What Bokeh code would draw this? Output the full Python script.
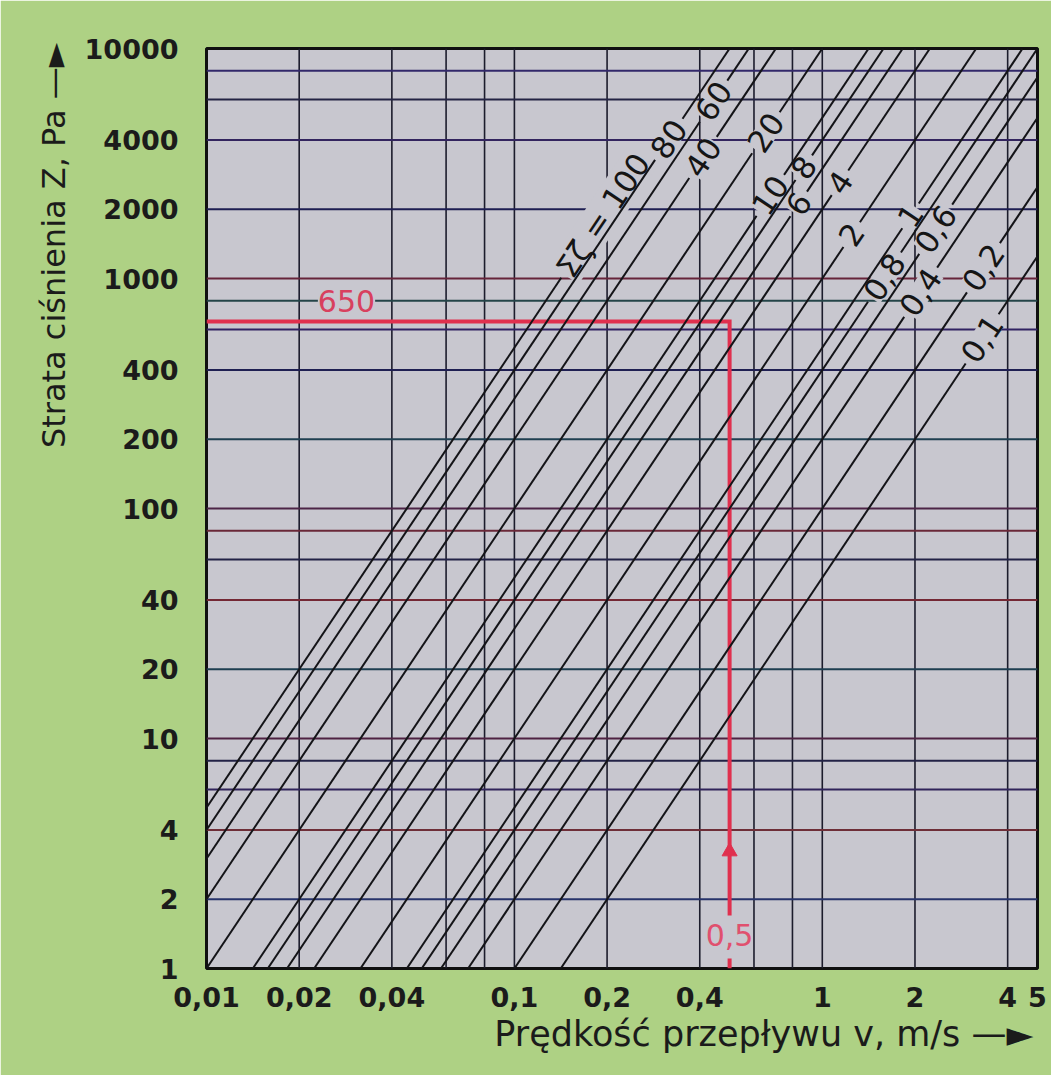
import math
from bokeh.plotting import figure
from bokeh.models import Label, FixedTicker, CustomJSTickFormatter, Title
from bokeh.embed import file_html
from bokeh.resources import INLINE

# ---------------- data ----------------
zeta = [100, 80, 60, 40, 20, 10, 8, 6, 4, 2, 1, 0.8, 0.6, 0.4, 0.2, 0.1]
zeta_labels = ["Σζ = 100", "80", "60", "40", "20", "10", "8", "6", "4", "2", "1",
               "0,8", "0,6", "0,4", "0,2", "0,1"]
rho = 1000.0  # water density, kg/m3  ->  Z = sum(zeta) * rho * v^2 / 2

x_ticks = [0.01, 0.02, 0.04, 0.1, 0.2, 0.4, 1, 2, 4, 5]
y_ticks = [1, 2, 4, 10, 20, 40, 100, 200, 400, 1000, 2000, 4000, 10000]
x_grid = [0.02, 0.04, 0.06, 0.08, 0.1, 0.2, 0.4, 0.6, 0.8, 1, 2, 4]
y_grid = [2, 4, 6, 8, 10, 20, 40, 60, 80, 100, 200, 400, 600, 800, 1000,
          2000, 4000, 6000, 8000]

example_v = 0.5      # m/s
example_Z = 650      # Pa

# ---------------- layout / style ----------------
# approximate screen spots (px) where each line label sits; snapped onto its line
label_spot = [(592, 208), (682, 148), (724, 108), (716, 166), (780, 142),
              (767, 193), (812, 173), (805, 208), (848, 188), (860, 240),
              (911, 216), (889, 280), (943, 234), (925, 295), (993, 274),
              (984, 340)]
y_grid_colors = ["#27336a", "#6e2e38", "#30245a", "#222246", "#4e2242",
                 "#1e3e50", "#742834", "#222246", "#6a2838", "#4c2446",
                 "#1f3f50", "#1f1f52", "#302262", "#244448", "#66243a",
                 "#1e1e52", "#32245e", "#242444", "#32286a"]

X0, X1 = 0.01, 5
Y0, Y1 = 1, 10000

FIG_W, FIG_H = 1051, 1075
BL, BR, BT, BB = 206, 14, 48, 107
FW = FIG_W - BL - BR
FH = FIG_H - BT - BB
dec_x = FW / math.log10(X1 / X0)
dec_y = FH / math.log10(Y1 / Y0)
ang = math.atan2(2 * dec_y, dec_x)
ux, uy = math.cos(ang), -math.sin(ang)
along = math.hypot(dec_x, 2 * dec_y)   # px along a line per x-decade

def vx(px):
    return X0 * 10 ** ((px - BL) / dec_x)

def zy(py):
    return Y0 * 10 ** (((BT + FH) - py) / dec_y)

BG = "#c8c7cf"
GREEN = "#aed184"
FONT = "DejaVu Sans"
INK = "#1b1b1b"

p = figure(width=FIG_W, height=FIG_H, x_axis_type="log", y_axis_type="log",
           x_range=(X0, X1), y_range=(Y0, Y1), output_backend="svg",
           toolbar_location=None, min_border_left=BL, min_border_right=BR,
           min_border_top=BT, min_border_bottom=BB,
           background_fill_color=BG, border_fill_color=GREEN)
p.xgrid.visible = False
p.ygrid.visible = False
p.outline_line_color = "#101010"
p.outline_line_width = 3

fmt = CustomJSTickFormatter(code="return tick.toString().replace('.', ',');")
for ax, ticks, st in ((p.xaxis, x_ticks, 12), (p.yaxis, y_ticks, 22)):
    ax.ticker = FixedTicker(ticks=ticks)
    ax.formatter = fmt
    ax.major_tick_line_color = None
    ax.minor_tick_line_color = None
    ax.axis_line_color = None
    ax.major_label_text_font = FONT
    ax.major_label_text_font_size = "27px"
    ax.major_label_text_font_style = "bold"
    ax.major_label_text_color = INK
    ax.major_label_standoff = st

# axis titles
p.add_layout(Title(text="Prędkość przepływu v, m/s  —►", align="right", offset=-7,
                   standoff=4, text_font=FONT, text_font_size="35px",
                   text_font_style="normal", text_color=INK), "below")
p.add_layout(Title(text="Strata ciśnienia Z, Pa  —►", align="right", offset=-16,
                   standoff=18, text_font=FONT, text_font_size="32px",
                   text_font_style="normal", text_color=INK), "left")

# grid lines (drawn as segments so label masks can hide them)
vg = p.segment(x0=x_grid, x1=x_grid, y0=[Y0] * len(x_grid), y1=[Y1] * len(x_grid),
               line_color="#1c1c2c", line_width=1.6)
vg.level = "underlay"
hg = p.segment(x0=[X0] * len(y_grid), x1=[X1] * len(y_grid), y0=y_grid, y1=y_grid,
               line_color=y_grid_colors, line_width=1.9)
hg.level = "underlay"

cw = {"0": 0.636, "1": 0.636, "2": 0.636, "4": 0.636, "6": 0.636, "8": 0.636,
      ",": 0.318, " ": 0.318, "=": 0.838, "Σ": 0.632, "ζ": 0.5}
LFS = 31

xs, ys = [], []
for z, lab, (px, py) in zip(zeta, zeta_labels, label_spot):
    c = rho / 2 * z
    v_in = max(X0, math.sqrt(Y0 / c))
    v_out = min(X1, math.sqrt(Y1 / c))
    # snap the label spot onto the line (screen space projection)
    sx1 = BL + dec_x * (0 - math.log10(X0))
    sy1 = BT + FH - dec_y * math.log10(c)
    t = (px - sx1) * ux + (py - sy1) * uy
    v_c = 10 ** (t * ux / dec_x)
    z_c = c * v_c ** 2
    w = sum(cw.get(ch, 0.6) for ch in lab) * LFS
    f = 10 ** ((w / 2 + 5) / along)
    xs.append([v_in, v_c / f]); ys.append([c * v_in ** 2, c * (v_c / f) ** 2])
    if z != 100:
        xs.append([v_c * f, v_out]); ys.append([c * (v_c * f) ** 2, c * v_out ** 2])
    lbl = Label(x=v_c, y=z_c, text=lab, angle=ang, text_align="center",
                text_baseline="middle", text_font=FONT,
                text_font_size=f"{LFS}px", text_color="#151515",
                background_fill_color=BG, background_fill_alpha=1.0)
    lbl.level = "underlay"
    p.renderers.append(lbl)

# example reading (red)
RED = "#e0304e"
l650 = Label(x=vx(346), y=800, text=str(example_Z), text_align="center",
             text_baseline="middle", text_font=FONT, text_font_size="30px",
             text_color="#d8405e", background_fill_color=BG,
             background_fill_alpha=1.0)
l650.level = "underlay"
p.renderers.append(l650)

p.line([X0, example_v, example_v], [example_Z, example_Z, zy(915)],
       line_color=RED, line_width=4, line_join="miter")
p.line([example_v, example_v], [Y0, zy(958)], line_color=RED, line_width=4)
p.scatter([example_v], [zy(851)], marker="triangle", size=15,
          fill_color=RED, line_color=RED)
p.add_layout(Label(x=example_v, y=zy(934), text="0,5", text_align="center",
                   text_baseline="middle", text_font=FONT,
                   text_font_size="30px", text_color="#e0506e"))

p.multi_line(xs, ys, line_color="#141418", line_width=2)

open("out.html", "w").write(file_html(p, INLINE))
